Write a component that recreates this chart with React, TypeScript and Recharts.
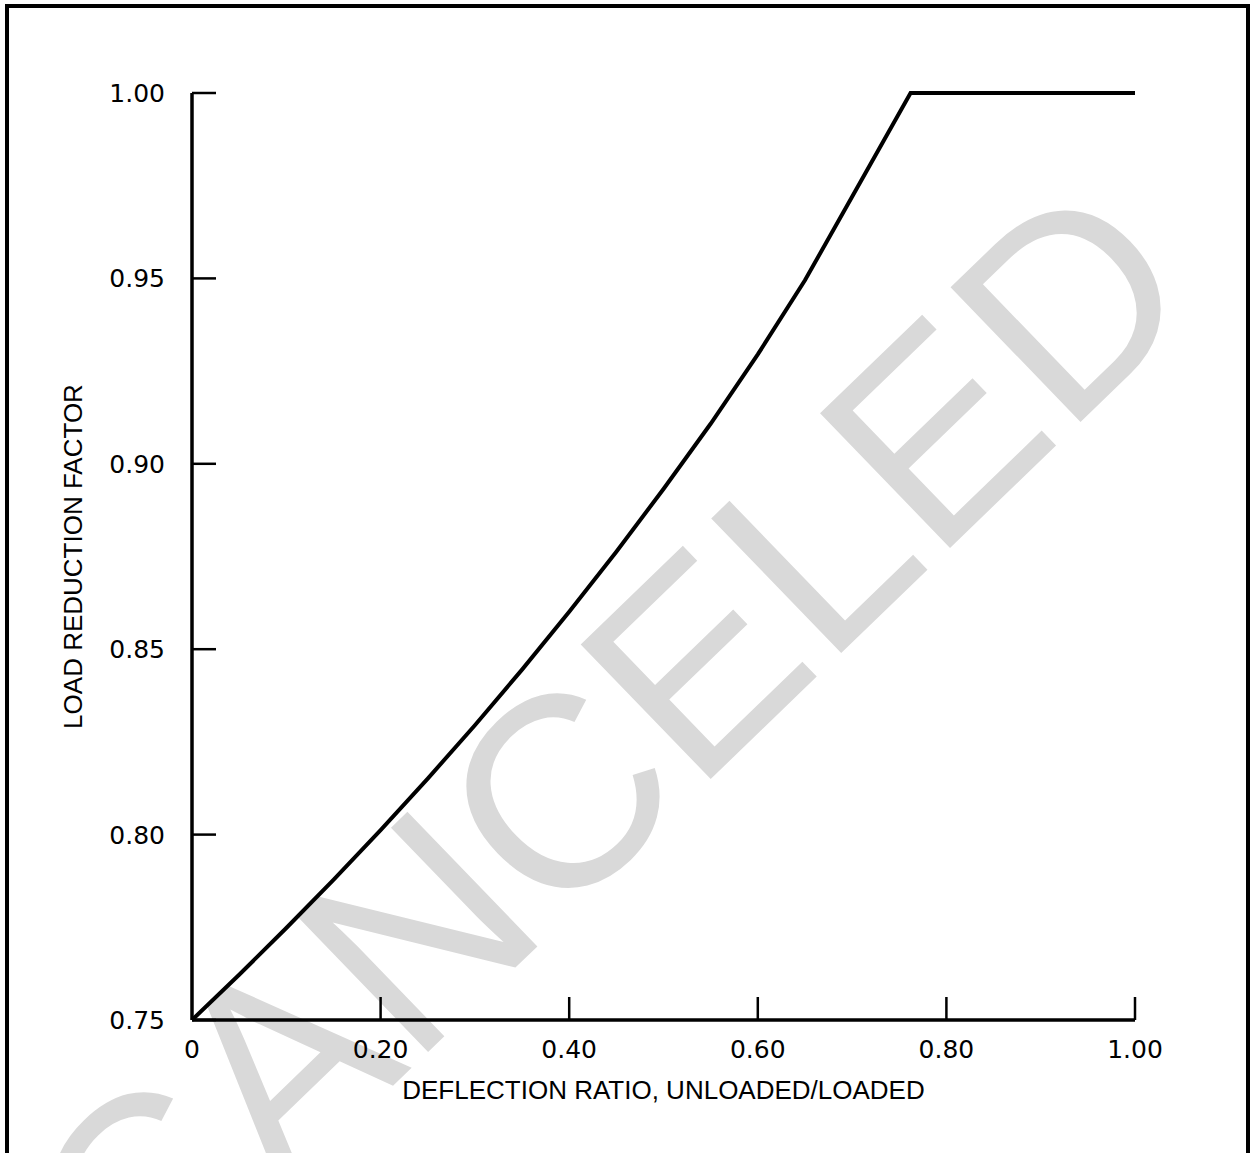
import React from 'react';
import { LineChart, Line, XAxis, YAxis, Label } from 'recharts';

// deflection ratio (unloaded/loaded) vs load reduction factor
const deflectionRatio = [0, 0.05, 0.1, 0.15, 0.2, 0.25, 0.3, 0.35, 0.4, 0.45, 0.5, 0.55, 0.6, 0.65, 0.7, 0.762, 1.0];
const reductionFactor = [0.75, 0.7622, 0.7748, 0.7878, 0.8012, 0.8151, 0.8295, 0.8445, 0.8601, 0.8763, 0.8932, 0.9108, 0.9295, 0.9495, 0.972, 1.0, 1.0];

const xTicks = [0, 0.2, 0.4, 0.6, 0.8, 1.0];
const xTickLabels = ['0', '0.20', '0.40', '0.60', '0.80', '1.00'];
const yTicks = [0.75, 0.8, 0.85, 0.9, 0.95, 1.0];
const yTickLabels = ['0.75', '0.80', '0.85', '0.90', '0.95', '1.00'];

const data = deflectionRatio.map((x, i) => ({ x, y: reductionFactor[i] }));

const TICK_FONT = '"DejaVu Sans", sans-serif';
const TITLE_FONT = '"Liberation Sans", Arial, sans-serif';

// ticks point inward from the axis
const XTick = (props: any) => {
  const { x, y, index } = props;
  return (
    <g>
      {index > 0 && <line x1={x} y1={y} x2={x} y2={y - 23} stroke="#000" strokeWidth={2.5} />}
      <text x={x} y={y + 29} dy="0.36em" textAnchor="middle" fontFamily={TICK_FONT} fontSize={25} fill="#000">
        {xTickLabels[index]}
      </text>
    </g>
  );
};

const YTick = (props: any) => {
  const { x, y, index } = props;
  return (
    <g>
      <line x1={x} y1={y} x2={x + 24} y2={y} stroke="#000" strokeWidth={2.5} />
      <text x={x - 27} y={y} dy="0.36em" textAnchor="end" fontFamily={TICK_FONT} fontSize={25} fill="#000">
        {yTickLabels[index]}
      </text>
    </g>
  );
};

const YTitle = (props: any) => {
  const vb = props.viewBox;
  const cx = 73;
  const cy = vb.y + vb.height / 2;
  return (
    <text x={cx} y={cy} dy="0.36em" textAnchor="middle" transform={`rotate(-90 ${cx} ${cy})`}
      fontFamily={TITLE_FONT} fontSize={26} fill="#000">
      LOAD REDUCTION FACTOR
    </text>
  );
};

const XTitle = (props: any) => {
  const vb = props.viewBox;
  return (
    <text x={vb.x + vb.width / 2} y={1090} dy="0.36em" textAnchor="middle"
      fontFamily={TITLE_FONT} fontSize={26} fill="#000">
      DEFLECTION RATIO, UNLOADED/LOADED
    </text>
  );
};

export default function App() {
  return (
    <div style={{ position: 'absolute', left: 0, top: 0, width: 1251, height: 1153, overflow: 'hidden', background: '#fff' }}>
      <div style={{ position: 'absolute', left: 5, top: 4, width: 1237, height: 1200, borderLeft: '4px solid #000', borderTop: '4px solid #000', borderRight: '4px solid #000' }} />
      <svg width={1251} height={1153} style={{ position: 'absolute', left: 0, top: 0 }}>
        <text x={605} y={745} dy="0.36em" textAnchor="middle" transform="rotate(-44 605 745)"
          fontFamily={TITLE_FONT} fontSize={272} fill="#d9d9d9">
          CANCELED
        </text>
      </svg>
      <div style={{ position: 'absolute', left: 0, top: 0 }}>
        <LineChart width={1251} height={1153} data={data} margin={{ top: 93, right: 116, bottom: 0, left: 0 }}>
          <XAxis dataKey="x" type="number" domain={[0, 1]} ticks={xTicks} interval={0} height={133}
            tickSize={0} tickMargin={0} tickLine={false} tick={<XTick />}
            axisLine={{ stroke: '#000', strokeWidth: 3.5 }}>
            <Label content={<XTitle />} />
          </XAxis>
          <YAxis type="number" domain={[0.75, 1]} ticks={yTicks} interval={0} width={192}
            tickSize={0} tickMargin={0} tickLine={false} tick={<YTick />}
            axisLine={{ stroke: '#000', strokeWidth: 3.5 }}>
            <Label content={<YTitle />} />
          </YAxis>
          <Line dataKey="y" type="linear" stroke="#000" strokeWidth={4} dot={false} isAnimationActive={false} />
        </LineChart>
      </div>
    </div>
  );
}
